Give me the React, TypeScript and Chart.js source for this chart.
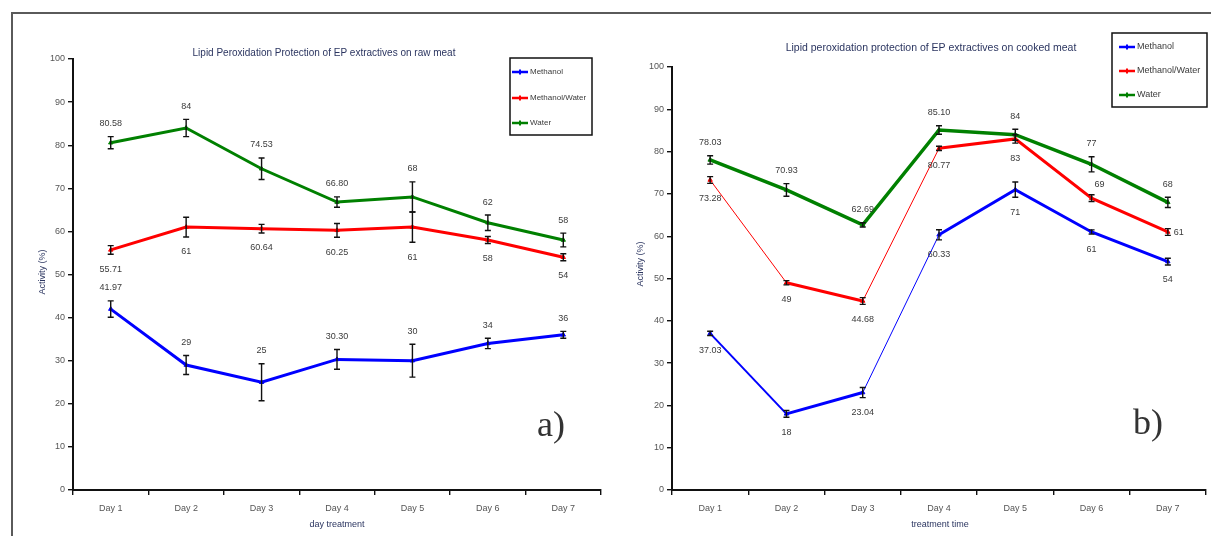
import React, { useEffect, useRef } from 'react';
import { Chart, registerables } from 'chart.js';

Chart.register(...registerables);

// ---------------- DATA ----------------
const DAYS = ['Day 1', 'Day 2', 'Day 3', 'Day 4', 'Day 5', 'Day 6', 'Day 7'];
const SERIES_NAMES = ['Methanol', 'Methanol/Water', 'Water'];
const Y_TICKS = [0, 10, 20, 30, 40, 50, 60, 70, 80, 90, 100];

// a) raw meat
const rawMethanol = [41.97, 29, 25, 30.3, 30, 34, 36];
const rawMethanolLabels = ['41.97', '29', '25', '30.30', '30', '34', '36'];
const rawMethanolErr = [1.9, 2.2, 4.3, 2.3, 3.8, 1.2, 0.8];

const rawMethanolWater = [55.71, 61, 60.64, 60.25, 61, 58, 54];
const rawMethanolWaterLabels = ['55.71', '61', '60.64', '60.25', '61', '58', '54'];
const rawMethanolWaterErr = [1.0, 2.3, 1.0, 1.6, 3.5, 0.8, 0.8];

const rawWater = [80.58, 84, 74.53, 66.8, 68, 62, 58];
const rawWaterLabels = ['80.58', '84', '74.53', '66.80', '68', '62', '58'];
const rawWaterErr = [1.4, 2.0, 2.5, 1.2, 3.5, 1.8, 1.6];

// b) cooked meat
const cookedMethanol = [37.03, 18, 23.04, 60.33, 71, 61, 54];
const cookedMethanolLabels = ['37.03', '18', '23.04', '60.33', '71', '61', '54'];
const cookedMethanolErr = [0.5, 0.8, 1.2, 1.2, 1.8, 0.5, 0.8];

const cookedMethanolWater = [73.28, 49, 44.68, 80.77, 83, 69, 61];
const cookedMethanolWaterLabels = ['73.28', '49', '44.68', '80.77', '83', '69', '61'];
const cookedMethanolWaterErr = [0.8, 0.5, 0.8, 0.5, 1.0, 0.8, 0.8];

const cookedWater = [78.03, 70.93, 62.69, 85.1, 84, 77, 68];
const cookedWaterLabels = ['78.03', '70.93', '62.69', '85.10', '84', '77', '68'];
const cookedWaterErr = [1.0, 1.5, 0.5, 1.0, 1.3, 1.8, 1.2];

// ---------------- STYLE ----------------
const FONT = "'Liberation Sans', Arial, sans-serif";
const COLORS = ['#0000ff', '#ff0000', '#008000'];
const TEXT = '#3a3a3a';

type PanelLayout = {
  width: number;
  height: number;
  left: number;
  area: { left: number; right: number; top: number; bottom: number };
  title: string;
  titleX: number;
  titleY: number;
  titleSize: number;
  yTitleX: number;
  yTitleY: number;
  xTitle: string;
  xTitleX: number;
  xTitleY: number;
  legend: { x: number; y: number; w: number; h: number; rows: number[]; sampleX: number; font: number };
  tag: string;
  tagX: number;
  tagY: number;
};

const LEFT_LAYOUT: PanelLayout = {
  width: 606,
  height: 536,
  left: 0,
  area: { left: 73, right: 601, top: 59, bottom: 490 },
  title: 'Lipid Peroxidation Protection of EP extractives on raw meat',
  titleX: 324,
  titleY: 53,
  titleSize: 10,
  yTitleX: 43,
  yTitleY: 272,
  xTitle: 'day treatment',
  xTitleX: 337,
  xTitleY: 525,
  legend: { x: 510, y: 58, w: 82, h: 77, rows: [72, 98, 123], sampleX: 512, font: 8 },
  tag: 'a)',
  tagX: 551,
  tagY: 427,
};

const RIGHT_LAYOUT: PanelLayout = {
  width: 605,
  height: 536,
  left: 606,
  area: { left: 66, right: 602, top: 67, bottom: 490 },
  title: 'Lipid peroxidation protection of EP extractives on cooked meat',
  titleX: 325,
  titleY: 48,
  titleSize: 10.5,
  yTitleX: 35,
  yTitleY: 264,
  xTitle: 'treatment time',
  xTitleX: 334,
  xTitleY: 525,
  legend: { x: 506, y: 33, w: 95, h: 74, rows: [47, 71, 95], sampleX: 513, font: 9 },
  tag: 'b)',
  tagX: 542,
  tagY: 425,
};

type SeriesDef = {
  values: number[];
  labels: string[];
  errors: number[];
  anchors: string[];
  widths: number[];
};

const allAbove = DAYS.map(() => 'above');
const allBelow = DAYS.map(() => 'below');

const LEFT_SERIES: SeriesDef[] = [
  { values: rawMethanol, labels: rawMethanolLabels, errors: rawMethanolErr, anchors: allAbove, widths: [3, 3, 3, 3, 3, 3] },
  { values: rawMethanolWater, labels: rawMethanolWaterLabels, errors: rawMethanolWaterErr, anchors: allBelow, widths: [3, 3, 3, 3, 3, 3] },
  { values: rawWater, labels: rawWaterLabels, errors: rawWaterErr, anchors: allAbove, widths: [3, 3, 3, 3, 3, 3] },
];

const RIGHT_SERIES: SeriesDef[] = [
  { values: cookedMethanol, labels: cookedMethanolLabels, errors: cookedMethanolErr, anchors: allBelow, widths: [2, 3, 1, 3, 3, 3] },
  {
    values: cookedMethanolWater,
    labels: cookedMethanolWaterLabels,
    errors: cookedMethanolWaterErr,
    anchors: ['below', 'below', 'below', 'below', 'below', 'aboveRight', 'right'],
    widths: [1, 3, 1, 3, 3, 3],
  },
  { values: cookedWater, labels: cookedWaterLabels, errors: cookedWaterErr, anchors: allAbove, widths: [3.5, 3.5, 3.5, 3.5, 3.5, 3.5] },
];

const annotatePlugin = {
  id: 'annotate',
  afterDatasetsDraw(chart: any) {
    const ctx: CanvasRenderingContext2D = chart.ctx;
    const y = chart.scales.y;
    ctx.save();
    chart.data.datasets.forEach((ds: any, di: number) => {
      const meta = chart.getDatasetMeta(di);
      meta.data.forEach((pt: any, i: number) => {
        const v = ds.data[i];
        const e = ds.errors[i];
        const x = pt.x;
        const yT = y.getPixelForValue(v + e);
        const yB = y.getPixelForValue(v - e);
        ctx.strokeStyle = '#111';
        ctx.lineWidth = 1.4;
        ctx.beginPath();
        ctx.moveTo(x, yT);
        ctx.lineTo(x, yB);
        ctx.moveTo(x - 3, yT);
        ctx.lineTo(x + 3, yT);
        ctx.moveTo(x - 3, yB);
        ctx.lineTo(x + 3, yB);
        ctx.stroke();

        ctx.fillStyle = TEXT;
        ctx.font = `9px ${FONT}`;
        ctx.textAlign = 'center';
        ctx.textBaseline = 'middle';
        const anchor = ds.anchors[i];
        let lx = x;
        let ly = pt.y;
        if (anchor === 'above') ly = yT - 13;
        else if (anchor === 'below') ly = yB + 15;
        else if (anchor === 'aboveRight') {
          ly = yT - 10;
          lx = x + 8;
        } else if (anchor === 'right') {
          lx = x + 11;
          ly = pt.y + 1;
        }
        ctx.fillText(ds.valueLabels[i], lx, ly);
      });
    });
    ctx.restore();
  },
  afterDraw(chart: any, _args: any, opts: any) {
    const L: PanelLayout = opts.layout;
    const ctx: CanvasRenderingContext2D = chart.ctx;
    ctx.save();
    ctx.fillStyle = '#2b3560';
    ctx.font = `${L.titleSize}px ${FONT}`;
    ctx.textAlign = 'center';
    ctx.textBaseline = 'middle';
    ctx.fillText(L.title, L.titleX, L.titleY);
    ctx.font = `9px ${FONT}`;
    ctx.fillText(L.xTitle, L.xTitleX, L.xTitleY);
    ctx.save();
    ctx.translate(L.yTitleX, L.yTitleY);
    ctx.rotate(-Math.PI / 2);
    ctx.fillText('Activity (%)', 0, 0);
    ctx.restore();
    const lg = L.legend;
    ctx.fillStyle = '#ffffff';
    ctx.fillRect(lg.x, lg.y, lg.w, lg.h);
    ctx.strokeStyle = '#111';
    ctx.lineWidth = 1.5;
    ctx.strokeRect(lg.x, lg.y, lg.w, lg.h);
    chart.data.datasets.forEach((ds: any, i: number) => {
      const ry = lg.rows[i];
      ctx.strokeStyle = ds.borderColor;
      ctx.lineWidth = 2.5;
      ctx.beginPath();
      ctx.moveTo(lg.sampleX, ry);
      ctx.lineTo(lg.sampleX + 16, ry);
      ctx.stroke();
      ctx.fillStyle = ds.borderColor;
      ctx.fillRect(lg.sampleX + 7, ry - 2.5, 2, 5);
      ctx.fillStyle = TEXT;
      ctx.font = `${lg.font}px ${FONT}`;
      ctx.textAlign = 'left';
      ctx.textBaseline = 'middle';
      ctx.fillText(ds.label, lg.sampleX + 18, ry);
    });
    ctx.fillStyle = '#333';
    ctx.font = `36px 'Liberation Serif', 'Times New Roman', serif`;
    ctx.textAlign = 'center';
    ctx.textBaseline = 'middle';
    ctx.fillText(L.tag, L.tagX, L.tagY);
    ctx.restore();
  },
};

function buildConfig(L: PanelLayout, series: SeriesDef[]): any {
  return {
    type: 'line',
    data: {
      labels: DAYS,
      datasets: series.map((s, i) => ({
        label: SERIES_NAMES[i],
        data: s.values,
        errors: s.errors,
        valueLabels: s.labels,
        anchors: s.anchors,
        borderColor: COLORS[i],
        backgroundColor: COLORS[i],
        borderWidth: 3,
        pointStyle: 'triangle',
        pointRadius: 2.5,
        pointBorderWidth: 1,
        tension: 0,
        fill: false,
        segment: {
          borderWidth: (c: any) => s.widths[c.p0DataIndex] ?? 3,
        },
      })),
    },
    options: {
      animation: false,
      responsive: false,
      devicePixelRatio: 1,
      layout: {
        padding: { top: L.area.top, left: 0, right: L.width - L.area.right, bottom: 0 },
      },
      plugins: {
        legend: { display: false },
        title: { display: false },
        tooltip: { enabled: false },
        annotate: { layout: L },
      },
      scales: {
        x: {
          type: 'category',
          offset: true,
          grid: { offset: true, drawOnChartArea: false, drawTicks: true, tickLength: 5, color: '#111', lineWidth: 1.4 },
          border: { color: '#111', width: 2 },
          ticks: { font: { size: 9, family: FONT }, color: '#555', padding: 8, maxRotation: 0 },
          afterFit: (sc: any) => {
            sc.height = L.height - L.area.bottom;
          },
        },
        y: {
          min: 0,
          max: 100,
          afterBuildTicks: (sc: any) => {
            sc.ticks = Y_TICKS.map((v) => ({ value: v }));
          },
          grid: { drawOnChartArea: false, drawTicks: true, tickLength: 5, color: '#111', lineWidth: 1.4 },
          border: { color: '#111', width: 2 },
          ticks: { font: { size: 9, family: FONT }, color: '#555', padding: 3 },
          afterFit: (sc: any) => {
            sc.width = L.area.left;
          },
        },
      },
    },
    plugins: [annotatePlugin],
  };
}

function Panel({ layout, series }: { layout: PanelLayout; series: SeriesDef[] }) {
  const ref = useRef<HTMLCanvasElement | null>(null);
  useEffect(() => {
    if (!ref.current) return;
    const chart = new Chart(ref.current, buildConfig(layout, series));
    return () => chart.destroy();
  }, [layout, series]);
  return (
    <canvas
      ref={ref}
      width={layout.width}
      height={layout.height}
      style={{ position: 'absolute', left: layout.left, top: 0, width: layout.width, height: layout.height }}
    />
  );
}

export default function App() {
  return (
    <div
      style={{
        position: 'fixed',
        left: 0,
        top: 0,
        width: 1211,
        height: 536,
        background: '#ffffff',
        overflow: 'hidden',
      }}
    >
      <div
        style={{
          position: 'absolute',
          left: 11,
          top: 12,
          width: 1230,
          height: 560,
          borderTop: '2px solid #5a5a5a',
          borderLeft: '2px solid #5a5a5a',
        }}
      />
      <Panel layout={LEFT_LAYOUT} series={LEFT_SERIES} />
      <Panel layout={RIGHT_LAYOUT} series={RIGHT_SERIES} />
    </div>
  );
}
